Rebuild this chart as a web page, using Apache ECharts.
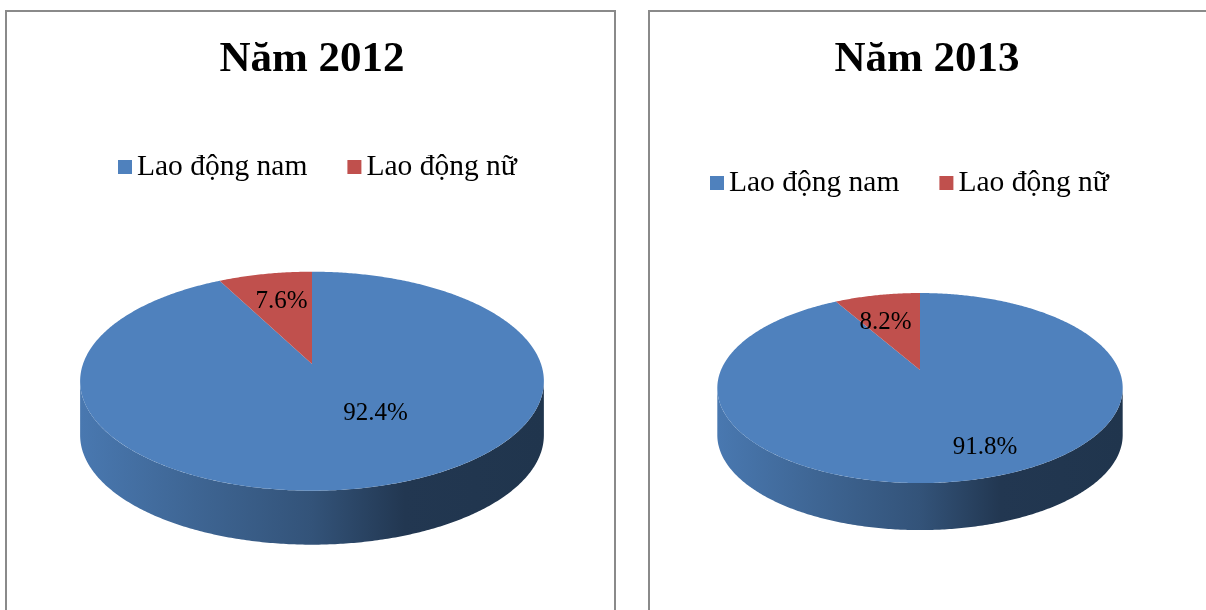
<!DOCTYPE html>
<html>
<head>
<meta charset="utf-8">
<script src="https://cdn.jsdelivr.net/npm/echarts@6/dist/echarts.min.js"></script>
<style>
html, body { margin: 0; padding: 0; background: #fff; }
#main { width: 1206px; height: 610px; }
</style>
</head>
<body>
<div id="main"></div>
<script>
var categories = ['Lao động nam', 'Lao động nữ'];
var chartTitles = ['Năm 2012', 'Năm 2013'];
var values2012 = [92.4, 7.6];
var values2013 = [91.8, 8.2];
var sliceColors = ['#4F81BD', '#C0504D'];

// layout of the two framed panels (pixels), 3D pie drawn with a small perspective
var panels = [
    { values: values2012, box: [6, 11, 609, 640], cx: 312, cy: 364, rx: 229, ry: 106.8, persp: 0.157, depth: 54,
      titleX: 312, titleTop: 38, legendLeft: 118, legendTop: 152, labelR: [0.44, 0.66], labelDx: [38, 2] },
    { values: values2013, box: [649, 11, 600, 640], cx: 920, cy: 370, rx: 199, ry: 91.6, persp: 0.19, depth: 47,
      titleX: 927, titleTop: 38, legendLeft: 710, legendTop: 168, labelR: [0.75, 0.6], labelDx: [21, -7] }
];

var serif = '"Liberation Serif", "Times New Roman", serif';

function project(p, ang, r) {
    var u = r * Math.sin(ang), v = -r * Math.cos(ang);
    var w = 1 - p.persp * v;
    return [p.cx + p.rx * u / w, p.cy + p.ry * v / w];
}

function arc(p, a0, a1) {
    var n = Math.max(2, Math.ceil((a1 - a0) / 0.01));
    var pts = [];
    for (var i = 0; i <= n; i++) {
        pts.push(project(p, a0 + (a1 - a0) * i / n, 1));
    }
    return pts;
}

// left / right extreme of the top ellipse, the side wall is visible between them
function silhouette(p) {
    var s = { xLeft: Infinity, xRight: -Infinity, aLeft: 0, aRight: 0 };
    for (var i = 0; i < 1440; i++) {
        var a = i / 1440 * 2 * Math.PI;
        var x = project(p, a, 1)[0];
        if (x < s.xLeft) { s.xLeft = x; s.aLeft = a; }
        if (x > s.xRight) { s.xRight = x; s.aRight = a; }
    }
    return s;
}

function shade(hex, f) {
    var c = echarts.color.parse(hex);
    return 'rgb(' + Math.round(c[0] * f) + ',' + Math.round(c[1] * f) + ',' + Math.round(c[2] * f) + ')';
}

function makeRender(p, idx) {
    return function (params, api) {
        var val = api.value(0), start = api.value(1), total = api.value(2);
        var a0 = start / total * 2 * Math.PI, a1 = (start + val) / total * 2 * Math.PI;
        var color = sliceColors[idx];
        var children = [];
        var sil = silhouette(p);
        var s = Math.max(a0, sil.aRight), e = Math.min(a1, sil.aLeft);
        if (e > s) {
            var topArc = arc(p, s, e);
            var pts = topArc.slice();
            for (var j = topArc.length - 1; j >= 0; j--) {
                pts.push([topArc[j][0], topArc[j][1] + p.depth]);
            }
            children.push({
                type: 'polygon', z2: 1,
                shape: { points: pts },
                style: {
                    fill: new echarts.graphic.LinearGradient(sil.xLeft, 0, sil.xRight, 0, [
                        { offset: 0, color: shade(color, 0.93) },
                        { offset: 0.25, color: shade(color, 0.78) },
                        { offset: 0.5, color: shade(color, 0.64) },
                        { offset: 0.7, color: shade(color, 0.43) },
                        { offset: 1, color: shade(color, 0.41) }
                    ], true)
                }
            });
        }
        children.push({
            type: 'polygon', z2: 5,
            shape: { points: [[p.cx, p.cy]].concat(arc(p, a0, a1)) },
            style: { fill: color }
        });
        var lp = project(p, (a0 + a1) / 2, p.labelR[idx]);
        children.push({
            type: 'text', z2: 10,
            x: lp[0] + p.labelDx[idx], y: lp[1],
            style: {
                text: val.toFixed(1) + '%', fill: '#000',
                fontSize: 25, fontFamily: serif,
                align: 'center', verticalAlign: 'middle'
            }
        });
        return { type: 'group', children: children };
    };
}

var series = [];
panels.forEach(function (p) {
    var total = p.values.reduce(function (a, b) { return a + b; }, 0);
    var start = 0;
    p.values.forEach(function (v, i) {
        series.push({
            type: 'custom',
            name: categories[i],
            coordinateSystem: 'none',
            silent: true,
            itemStyle: { color: sliceColors[i] },
            renderItem: makeRender(p, i),
            data: [[v, start, total]]
        });
        start += v;
    });
});

var myChart = echarts.init(document.getElementById('main'));
var option = {
    animation: false,
    backgroundColor: '#fff',
    title: panels.map(function (p, i) {
        return {
            text: chartTitles[i],
            left: p.titleX, top: p.titleTop,
            textAlign: 'center', padding: 0,
            textStyle: { fontFamily: serif, fontSize: 43, fontWeight: 'bold', color: '#000' }
        };
    }),
    legend: panels.map(function (p) {
        return {
            data: categories,
            left: p.legendLeft, top: p.legendTop,
            padding: 0, itemGap: 40,
            itemWidth: 14, itemHeight: 14, icon: 'rect',
            selectedMode: false,
            textStyle: { fontFamily: serif, fontSize: 29.5, color: '#000' }
        };
    }),
    graphic: panels.map(function (p) {
        return {
            type: 'rect', z: -1, silent: true,
            shape: { x: p.box[0], y: p.box[1], width: p.box[2], height: p.box[3] },
            style: { fill: 'none', stroke: '#8a8a8a', lineWidth: 2 }
        };
    }),
    series: series
};
myChart.setOption(option);
</script>
</body>
</html>
